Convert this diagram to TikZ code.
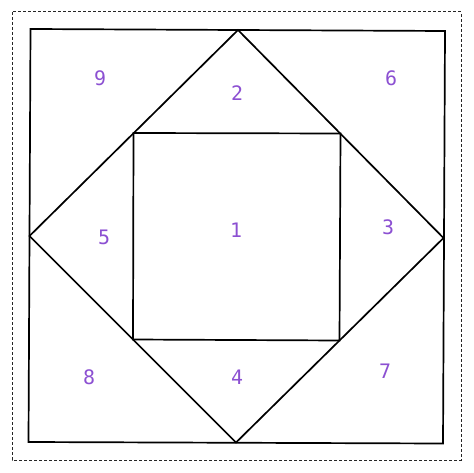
\documentclass[tikz,border=0pt]{standalone}
\usepackage{fontspec}
\newfontfamily\numfont{DejaVu Sans Mono}
\definecolor{numpurple}{RGB}{140,80,210}
\begin{document}
\begin{tikzpicture}[x=1bp,y=-1bp,
  line/.style={draw=black,line width=1.7bp,line join=miter},
  frame/.style={draw=black!85,line width=1bp,dash pattern=on 3bp off 2bp},
  lbl/.style={text=numpurple,font=\numfont\fontsize{20}{21}\selectfont,inner sep=0pt}]
\useasboundingbox (0,0) rectangle (474,473);
\fill[white] (0,0) rectangle (474,473);
% dashed frame
\draw[frame] (12,12) rectangle (461,460);
% outer square corners
\coordinate (tl) at (30.5,29);
\coordinate (tr) at (445,31);
\coordinate (br) at (443,443.5);
\coordinate (bl) at (28.5,442);
\draw[line] (tl) -- (tr) -- (br) -- (bl) -- cycle;
% diamond
\coordinate (dt) at (238,30);
\coordinate (dr) at (443.5,238);
\coordinate (db) at (236,442.5);
\coordinate (dl) at (29.5,236);
\draw[line] (dt) -- (dr) -- (db) -- (dl) -- cycle;
% inner square
\coordinate (itl) at (133.5,133);
\coordinate (itr) at (340.5,133.5);
\coordinate (ibr) at (339.5,340.5);
\coordinate (ibl) at (133,339.5);
\draw[line] (itl) -- (itr) -- (ibr) -- (ibl) -- cycle;
% labels
\node[lbl] (n9) at (100,78) {9};
\node[lbl] (n2) at (237,93) {2};
\node[lbl] (n6) at (391,78) {6};
\node[lbl] (n5) at (104,237) {5};
\node[lbl] (n1) at (236,230) {1};
\node[lbl] (n3) at (388,227) {3};
\node[lbl] (n8) at (89,377) {8};
\node[lbl] (n4) at (237,377) {4};
\node[lbl] (n7) at (385,371) {7};
\end{tikzpicture}
\end{document}
